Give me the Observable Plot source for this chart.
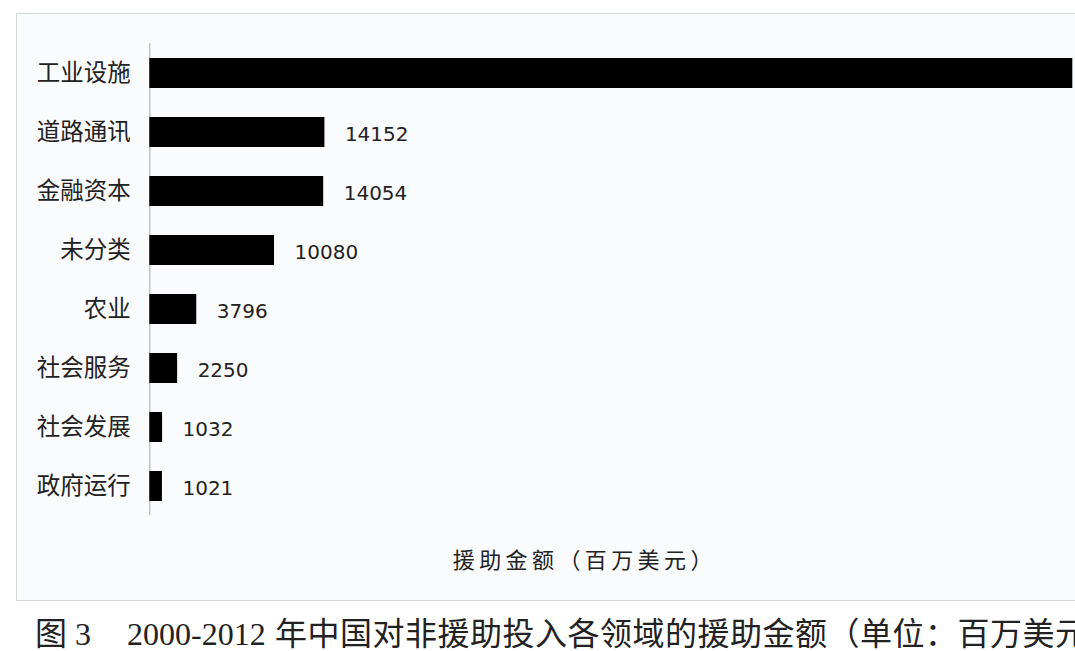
<!DOCTYPE html>
<html><head><meta charset="utf-8">
<script src="https://cdn.jsdelivr.net/npm/d3@7"></script>
<script src="https://cdn.jsdelivr.net/npm/@observablehq/plot@0.6"></script>
<style>
html,body{margin:0;padding:0;background:#fff;overflow:hidden;}
#page{position:relative;width:1075px;height:651px;overflow:hidden;background:#fff;}
#box{position:absolute;left:16px;top:13px;width:1200px;height:586px;border:1px solid #d3d7db;background:#fafbfd;}
#chart{position:absolute;left:0;top:0;}
#chart svg{overflow:hidden;}
.cap{position:absolute;top:619px;font-size:32px;line-height:30px;white-space:nowrap;font-family:"Liberation Serif","Noto Sans CJK SC",serif;color:#222;}
</style></head><body>
<div id="page"><div id="box"></div><div id="chart"></div>
<div class="cap" id="cap1" style="left:35px"></div>
<div class="cap" id="cap2" style="left:127px"></div>
<div class="cap" id="cap3" style="left:275px;letter-spacing:0.5px"></div>
</div>
<script>
const categories = ["工业设施","道路通讯","金融资本","未分类","农业","社会服务","社会发展","政府运行"];
const values = [74600,14152,14054,10080,3796,2250,1032,1021];
const xLabel = "援助金额（百万美元）";
const captionParts = ["图 3", "2000-2012", "年中国对非援助投入各领域的援助金额（单位：百万美元）"];

const data = categories.map((c, i) => ({category: c, value: values[i]}));
// the reference picture is cropped at the right: the first bar's value label is not visible
const labelled = data.slice(1);
const W = 1075, H = 600;
const x0 = 149.3, xEnd = 1072.3;
const plot = Plot.plot({
  width: W, height: H,
  marginLeft: x0, marginRight: W - xEnd, marginTop: 43, marginBottom: H - 515,
  style: {background: "transparent", fontFamily: "'Noto Sans CJK SC', sans-serif", color: "#222"},
  x: {domain: [0, values[0]], axis: null},
  y: {domain: categories, paddingInner: 0.5, paddingOuter: 0.22},
  marks: [
    Plot.ruleX([0], {stroke: "#a8a8a8", strokeWidth: 1}),
    Plot.barX(data, {x: "value", y: "category", fill: "#000"}),
    Plot.axisY({tickSize: 0, tickPadding: 19, fontSize: 23.5, label: null, fill: "#222"}),
    Plot.text(labelled, {x: "value", y: "category", text: d => String(d.value), dx: 20, dy: 2,
      textAnchor: "start", fontSize: 20, fontFamily: "'DejaVu Sans', sans-serif", fill: "#222"}),
    Plot.text([xLabel], {frameAnchor: "bottom-left", dx: 303, dy: 52, textAnchor: "start",
      fontSize: 22, fill: "#222"})
  ]
});
d3.select(plot).selectAll("text").filter(function() { return this.textContent === xLabel; })
  .style("letter-spacing", "4.4px");
document.getElementById("chart").appendChild(plot);
["cap1", "cap2", "cap3"].forEach((id, i) => { document.getElementById(id).textContent = captionParts[i]; });
</script>
</body></html>
